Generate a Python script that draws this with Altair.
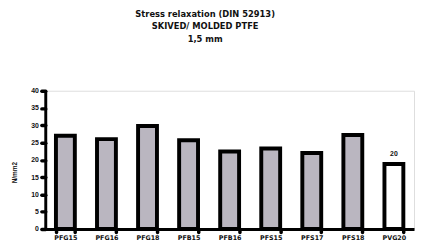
import altair as alt
import pandas as pd

materials = ["PFG15", "PFG16", "PFG18", "PFB15", "PFB16", "PFS15", "PFS17", "PFS18", "PVG20"]
values = [27, 26, 29.8, 25.7, 22.4, 23.3, 22, 27.2, 18.8]
kinds = ["skived", "skived", "skived", "skived", "skived", "skived", "skived", "skived", "molded"]
label_text = ["", "", "", "", "", "", "", "", "20"]
y_ticks = [0, 5, 10, 15, 20, 25, 30, 35, 40]

df = pd.DataFrame({"material": materials, "value": values, "kind": kinds, "label": label_text})

FONT = "Liberation Sans, Arial, sans-serif"
TFONT = "DejaVu Sans, sans-serif"

x = alt.X("material:N", sort=materials, title=None,
          scale=alt.Scale(paddingInner=0.54, paddingOuter=0.26),
          axis=alt.Axis(labelAngle=0, labelFont=TFONT, labelFontSize=6.5, labelFontWeight="bold",
                        labelColor="#111", labelPadding=3, domainColor="#000", domainWidth=3,
                        tickColor="#000", tickWidth=3.5, tickSize=3, tickCap="round",
                        tickBand="extent", grid=False, labelOverlap=False))

y = alt.Y("value:Q", title="N/mm2",
          scale=alt.Scale(domain=[0, 40], nice=False),
          axis=alt.Axis(values=y_ticks, labelFont=FONT, labelFontSize=7,
                        labelFontWeight="bold", labelColor="#111", labelPadding=3,
                        labelOverlap=False, labelFlush=False,
                        domainColor="#000", domainWidth=3, tickColor="#000", tickWidth=3.5,
                        tickSize=4, tickCap="round", grid=False,
                        titleFont=FONT, titleFontSize=6.5, titleFontWeight="bold",
                        titleColor="#111", titleAngle=270, titleX=-31, titleY=83,
                        titleAlign="center", titleBaseline="middle"))

bars = alt.Chart(df).mark_bar(stroke="#000", strokeWidth=4).encode(
    x=x, y=y,
    fill=alt.Fill("kind:N", scale=alt.Scale(domain=["skived", "molded"], range=["#bab6c0", "#ffffff"]),
                  legend=None),
)

labels = alt.Chart(df).mark_text(font=FONT, fontSize=7, fontWeight="bold", color="#111",
                                 baseline="bottom", dy=-7).encode(
    x=x, y=y, text="label:N")

chart = alt.layer(bars, labels).properties(
    width=376, height=141,
    padding={"left": 38, "top": 82, "right": 1, "bottom": 18},
    autosize=alt.AutoSizeParams(type="none"),
    title=alt.TitleParams(["Stress relaxation (DIN 52913)", "SKIVED/ MOLDED PTFE", "1,5 mm"],
                          font=TFONT, fontSize=8.5, fontWeight="bold", color="#111",
                          lineHeight=13, anchor="middle", dx=-25, offset=44),
).configure_view(stroke="#222", strokeWidth=1.8).configure(background="white")

chart.save("out.html", embed_options={"renderer": "svg", "actions": False})
